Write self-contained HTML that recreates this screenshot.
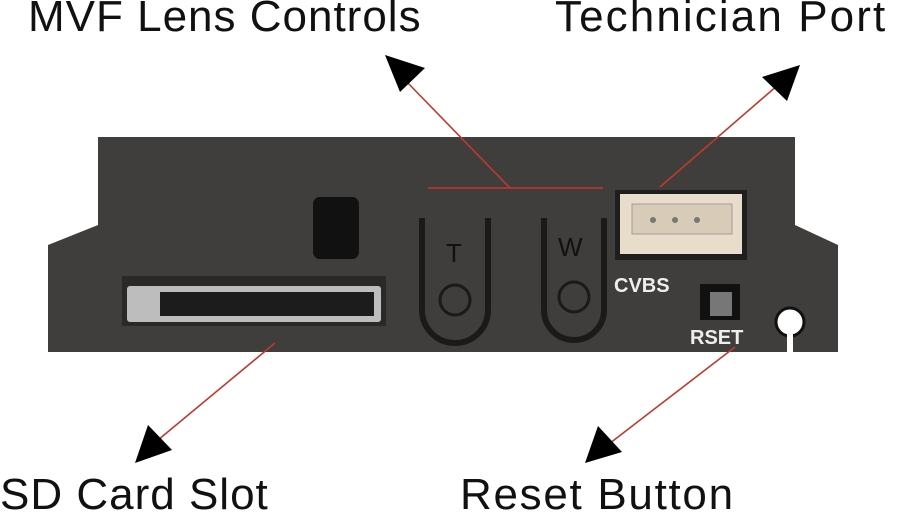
<!DOCTYPE html>
<html><head><style>
body{margin:0;background:#fff;width:900px;height:516px;overflow:hidden;position:relative;font-family:"Liberation Sans",sans-serif}
.t{position:absolute;font-size:44px;color:#111;white-space:nowrap}
</style></head><body>
<svg width="900" height="516" style="position:absolute;left:0;top:0">
<polygon points="98,137 795,137 795,225 838,245 838,352 48,352 48,245 98,225" fill="#403e3c"/>
<rect x="313" y="197" width="46" height="62" rx="7" fill="#111"/>
<rect x="122" y="276" width="264" height="50" fill="#2a2928"/>
<rect x="127" y="286" width="254" height="36" rx="3" fill="#bdbdbd"/>
<rect x="160" y="292" width="214" height="24" fill="#1c1c1c"/>
<g fill="none" stroke="#1a1a1a" stroke-width="6">
<path d="M422,218 V310 a33,33 0 0 0 66,0 V218"/>
<path d="M544,218 V310 a30,30 0 0 0 60,0 V218"/>
</g>
<circle cx="455" cy="300" r="15" fill="none" stroke="#1a1a1a" stroke-width="3"/>
<circle cx="574" cy="297" r="15" fill="none" stroke="#1a1a1a" stroke-width="3"/>
<text x="446" y="262" font-size="26" fill="#111" font-family="Liberation Sans">T</text>
<text x="558" y="256" font-size="26" fill="#111" font-family="Liberation Sans">W</text>
<rect x="615" y="190" width="132" height="70" fill="#1e1e1e"/>
<rect x="620" y="194" width="122" height="60" fill="#e8dccb"/>
<rect x="632" y="204" width="100" height="30" fill="#d8ccb8" stroke="#a99" stroke-width="1"/>
<circle cx="653" cy="220" r="3" fill="#777"/><circle cx="675" cy="220" r="3" fill="#777"/><circle cx="697" cy="220" r="3" fill="#777"/>
<text x="614" y="292" font-size="20" font-weight="bold" fill="#eee" font-family="Liberation Sans">CVBS</text>
<rect x="700" y="284" width="40" height="36" fill="#111"/>
<rect x="710" y="292" width="22" height="24" fill="#777"/>
<text x="690" y="344" font-size="20" font-weight="bold" fill="#eee" font-family="Liberation Sans">RSET</text>
<circle cx="790" cy="322" r="14" fill="#fff" stroke="#111" stroke-width="3"/>
<rect x="787" y="333" width="6" height="20" fill="#fff"/>
<g stroke="#c0392b" stroke-width="1.6">
<line x1="428" y1="188" x2="603" y2="188"/>
<line x1="510" y1="188" x2="405" y2="80"/>
<line x1="660" y1="187" x2="778" y2="85"/>
<line x1="275" y1="343" x2="158" y2="440"/>
<line x1="735" y1="347" x2="605" y2="447"/>
</g>
<g fill="#000">
<polygon points="385,55 425,68 400,92"/>
<polygon points="800,65 762,77 787,101"/>
<polygon points="135,463 148,425 172,450"/>
<polygon points="585,463 598,426 622,452"/>
</g>
</svg>
<div class="t" style="left:28px;top:-8px;letter-spacing:1px">MVF Lens Controls</div>
<div class="t" style="left:555px;top:-8px;letter-spacing:2.1px">Technician Port</div>
<div class="t" style="left:0px;top:470px;letter-spacing:1px">SD Card Slot</div>
<div class="t" style="left:460px;top:470px;letter-spacing:1.7px">Reset Button</div>
</body></html>
